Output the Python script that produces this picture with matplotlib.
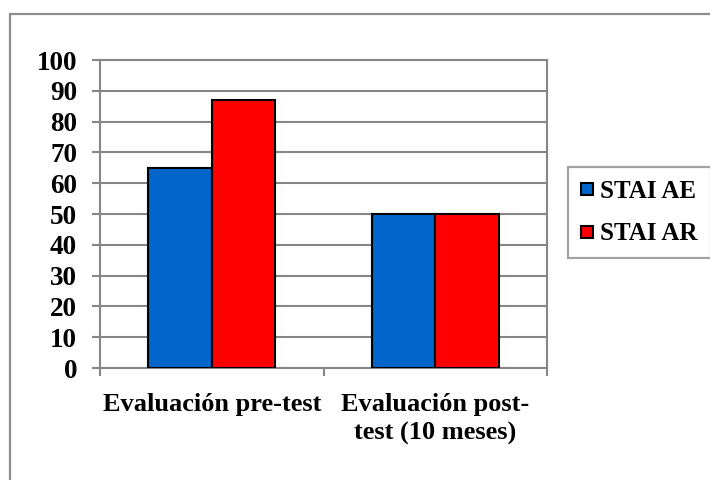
import matplotlib
matplotlib.use("Agg")
import matplotlib.pyplot as plt
from matplotlib.patches import Rectangle
from matplotlib.lines import Line2D
import numpy as np

categories = ["Evaluación pre-test", "Evaluación post-\ntest (10 meses)"]
series_names = ["STAI AE", "STAI AR"]
stai_ae = [65, 50]
stai_ar = [87, 50]
colors = ["#0066CC", "#FF0000"]
yticks = [0, 10, 20, 30, 40, 50, 60, 70, 80, 90, 100]

W, H = 710, 480
fig = plt.figure(figsize=(W / 100, H / 100), dpi=100)
plt.rcParams['font.family'] = ['Liberation Serif', 'DejaVu Serif']

# outer chart frame (right and bottom edges fall outside the canvas)
fig.add_artist(Rectangle((10 / W, -0.1), 1.2, 1.1 - 14 / H,
                         transform=fig.transFigure, fill=False,
                         edgecolor="#8c8c8c", lw=1.6, clip_on=False))

left, right, top, bottom = 100, 547, 60, 368
ax = fig.add_axes([left / W, 1 - bottom / H, (right - left) / W, (bottom - top) / H])

x = np.arange(len(categories))
bw = 0.57 / 2
ax.bar(x - bw / 2, stai_ae, bw, color=colors[0], edgecolor="black", lw=1.5, zorder=3, label=series_names[0])
ax.bar(x + bw / 2, stai_ar, bw, color=colors[1], edgecolor="black", lw=1.5, zorder=3, label=series_names[1])

ax.set_xlim(-0.5, len(categories) - 0.5)
ax.set_ylim(0, 100)
ax.set_yticks(yticks)
ax.set_yticklabels([str(v) for v in yticks], fontsize=19.5, fontweight="bold")
ax.yaxis.grid(True, color="#868686", lw=1.5, zorder=0)
ax.set_axisbelow(True)

# x ticks at category boundaries
ax.set_xticks(np.arange(len(categories) + 1) - 0.5)
ax.set_xticklabels([])
ax.set_xticks(x, minor=True)
ax.set_xticklabels(categories, minor=True, fontsize=19, fontweight="bold", linespacing=1.3)
ax.tick_params(axis="x", which="minor", length=0, pad=18)
ax.tick_params(axis="x", which="major", length=5.5, color="#868686", width=1.5, direction="out")
ax.tick_params(axis="y", length=5.5, color="#868686", width=1.5, pad=11)

for s in ax.spines.values():
    s.set_color("#868686")
    s.set_linewidth(1.5)

handles = [Line2D([], [], marker="s", ls="none", markersize=8.5, markerfacecolor=c,
                  markeredgecolor="black", markeredgewidth=1.5) for c in colors]
leg = fig.legend(handles, series_names, loc="upper left",
                 bbox_to_anchor=(568 / W, 1 - 167 / H), frameon=True,
                 prop={"size": 18, "weight": "bold"}, handlelength=0.55,
                 handletextpad=0.25, borderpad=0.5, labelspacing=0.8,
                 fancybox=False, borderaxespad=0)
leg.get_frame().set_edgecolor("#8c8c8c")
leg.get_frame().set_linewidth(1.6)

fig.savefig("out.png", dpi=100)
